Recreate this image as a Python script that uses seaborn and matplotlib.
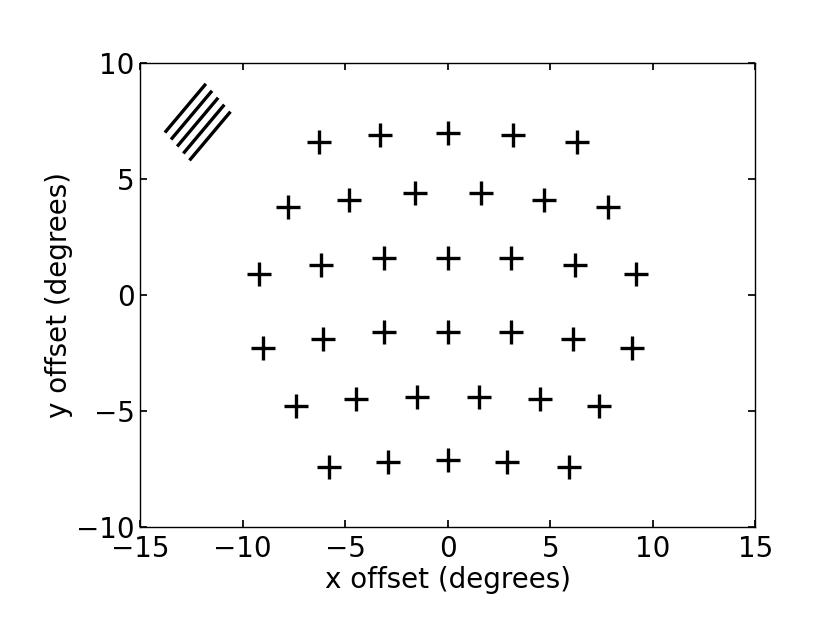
import numpy as np
import pandas as pd
import matplotlib
matplotlib.use('Agg')
import matplotlib.pyplot as plt
import seaborn as sns

# stimulus positions (degrees), read row by row from top to bottom
x_pos = [-6.3, -3.3, 0.0, 3.2, 6.3,
         -7.8, -4.8, -1.6, 1.6, 4.7, 7.8,
         -9.2, -6.2, -3.1, 0.0, 3.1, 6.2, 9.2,
         -9.0, -6.1, -3.1, 0.0, 3.1, 6.1, 9.0,
         -7.4, -4.5, -1.5, 1.5, 4.5, 7.4,
         -5.8, -2.9, 0.0, 2.9, 5.9]
y_pos = [6.6, 6.9, 7.0, 6.9, 6.6,
         3.8, 4.1, 4.4, 4.4, 4.1, 3.8,
         0.9, 1.3, 1.6, 1.6, 1.6, 1.3, 0.9,
         -2.3, -1.9, -1.6, -1.6, -1.6, -1.9, -2.3,
         -4.8, -4.5, -4.4, -4.4, -4.5, -4.8,
         -7.4, -7.2, -7.1, -7.2, -7.4]

# grating icon in the upper left corner: start / end of each bar
grating_x0 = [-13.8, -13.5, -13.2, -12.9, -12.6]
grating_y0 = [7.0, 6.7, 6.4, 6.1, 5.8]
grating_x1 = [-11.8, -11.5, -11.2, -10.9, -10.6]
grating_y1 = [9.1, 8.8, 8.5, 8.2, 7.9]

df = pd.DataFrame({'x': x_pos, 'y': y_pos})

sns.set_theme(style="ticks", rc={
    'xtick.direction': 'in', 'ytick.direction': 'in',
    'xtick.major.size': 5, 'ytick.major.size': 5,
    'axes.edgecolor': 'black', 'axes.linewidth': 1.0,
    'axes.labelcolor': 'black', 'text.color': 'black',
})
plt.rcParams['font.family'] = ['DejaVu Sans']

fig = plt.figure(figsize=(8.3, 6.23), dpi=100)
ax = fig.add_axes([0.169, 0.154, 0.741, 0.745])

sns.scatterplot(data=df, x='x', y='y', marker='+', s=280, color='black',
                linewidth=2.4, ax=ax, legend=False)

for gx0, gy0, gx1, gy1 in zip(grating_x0, grating_y0, grating_x1, grating_y1):
    ax.plot([gx0, gx1], [gy0, gy1], color='black', lw=2.4, solid_capstyle='butt')

ax.set_xlim(-15, 15)
ax.set_ylim(-10, 10)
ax.set_xticks([-15, -10, -5, 0, 5, 10, 15])
ax.set_yticks([-10, -5, 0, 5, 10])
ax.tick_params(top=True, right=True, labelsize=20, colors='black')
ax.tick_params(axis='x', pad=6)
ax.tick_params(axis='y', pad=4)
ax.set_xlabel('x offset (degrees)', fontsize=20, labelpad=2)
ax.set_ylabel('y offset (degrees)', fontsize=20, labelpad=2)

fig.savefig('out.png', dpi=100)
plt.close(fig)
